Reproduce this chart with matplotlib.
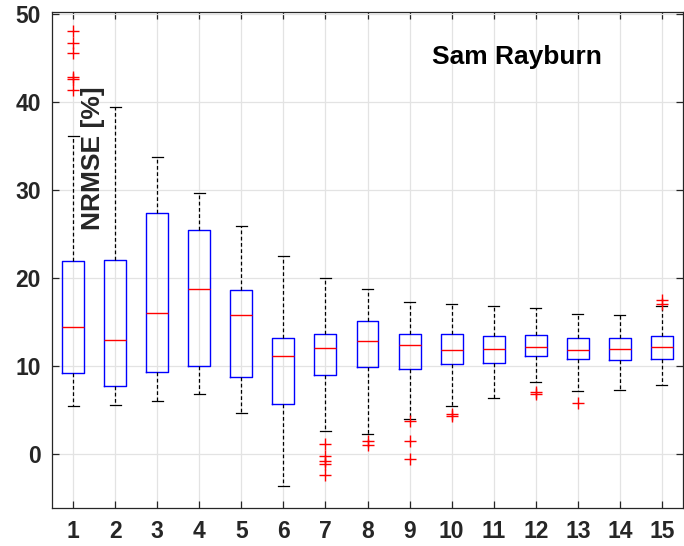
import matplotlib
matplotlib.use("Agg")
import matplotlib.pyplot as plt

plt.rcParams['font.family'] = ['Liberation Sans', 'DejaVu Sans']

# Box statistics per lead time (NRMSE, %)
lead = [1, 2, 3, 4, 5, 6, 7, 8, 9, 10, 11, 12, 13, 14, 15]
q1 = [9.2, 7.7, 9.35, 10.0, 8.8, 5.65, 9.0, 9.85, 9.7, 10.2, 10.4, 11.1, 10.8, 10.7, 10.8]
med = [14.5, 13.0, 16.05, 18.75, 15.8, 11.2, 12.1, 12.8, 12.35, 11.8, 11.9, 12.2, 11.8, 12.0, 12.2]
q3 = [21.9, 22.1, 27.35, 25.5, 18.6, 13.2, 13.6, 15.1, 13.7, 13.7, 13.4, 13.5, 13.2, 13.2, 13.45]
whislo = [5.45, 5.6, 6.0, 6.85, 4.7, -3.6, 2.6, 2.35, 4.05, 5.5, 6.4, 8.15, 7.2, 7.35, 7.85]
whishi = [36.1, 39.4, 33.75, 29.7, 25.95, 22.5, 20.0, 18.75, 17.3, 17.1, 16.8, 16.6, 15.9, 15.8, 16.8]
fliers = [
    [48.0, 46.7, 45.6, 42.8, 42.6, 41.4],
    [], [], [], [], [],
    [1.2, -0.2, -0.8, -1.1, -2.4],
    [1.5, 1.1],
    [3.8, 1.5, -0.5],
    [4.6, 4.35],
    [],
    [7.1, 6.8],
    [5.8],
    [],
    [17.5, 17.1],
]
yticks = [0, 10, 20, 30, 40, 50]

stats = [
    dict(med=m, q1=a, q3=b, whislo=lo, whishi=hi, fliers=f, label=str(n))
    for n, a, m, b, lo, hi, f in zip(lead, q1, med, q3, whislo, whishi, fliers)
]

fig = plt.figure(figsize=(6.84, 5.46), dpi=100)
ax = fig.add_axes([52 / 684, 38 / 546, 631 / 684, 496 / 546])

ax.bxp(
    stats, positions=lead, widths=0.52, capwidths=0.26, showfliers=True,
    boxprops=dict(color='#0000ff', linewidth=1.0),
    medianprops=dict(color='#ff0000', linewidth=1.0),
    whiskerprops=dict(color='black', linewidth=0.9, linestyle=(0, (3, 2))),
    capprops=dict(color='black', linewidth=0.9),
    flierprops=dict(marker='+', markeredgecolor='#ff0000', markersize=9,
                    markeredgewidth=1.0, linestyle='none'),
)

ax.set_xlim(0.5, 15.5)
ax.set_ylim(-6.1, 50.2)
ax.set_xticks(lead)
ax.set_xticklabels([str(n) for n in lead])
ax.set_yticks(yticks)

ax.grid(True, color='#e3e3e3', linewidth=0.9)
ax.set_axisbelow(True)
for s in ax.spines.values():
    s.set_color('#262626')
    s.set_linewidth(0.9)
ax.tick_params(direction='in', length=5, width=0.9, color='#262626',
               top=True, right=True, labelsize=16.5, labelcolor='#262626')
ax.tick_params(axis='x', pad=9)
ax.tick_params(axis='y', pad=8)
for lab in ax.get_xticklabels() + ax.get_yticklabels():
    lab.set_fontweight('bold')

fig.text(93 / 684, 1 - 158 / 546, 'NRMSE [%]', rotation=90, ha='center',
         va='center', fontsize=19, fontweight='bold', color='#262626')
fig.text(517 / 684, 1 - 57 / 546, 'Sam Rayburn', ha='center', va='center',
         fontsize=19, fontweight='bold', color='black')

fig.savefig('out.png', dpi=100)
